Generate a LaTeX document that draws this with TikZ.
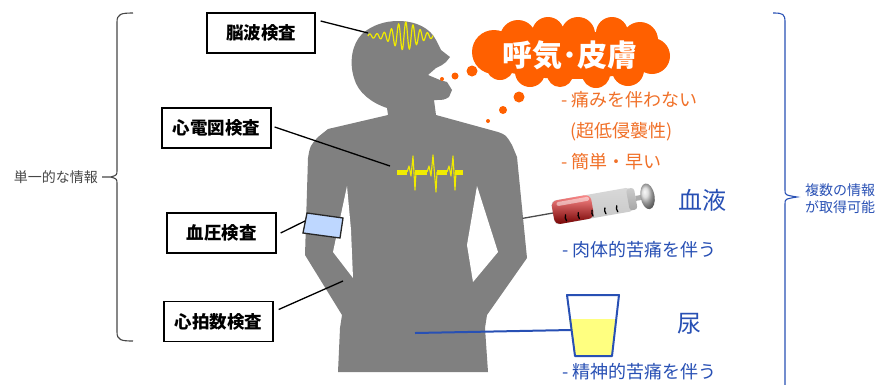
\documentclass[tikz,border=0pt]{standalone}
\usepackage{fontspec}
\setmainfont{Noto Sans CJK JP}
\usetikzlibrary{calc}

\definecolor{bodygrey}{RGB}{128,128,128}
\definecolor{cloudorange}{RGB}{255,96,0}
\definecolor{textorange}{RGB}{240,112,40}
\definecolor{infoblue}{RGB}{40,80,180}
\definecolor{bracegrey}{RGB}{70,70,70}
\definecolor{cuffblue}{RGB}{190,215,255}
\definecolor{waveyellow}{RGB}{240,235,0}
\definecolor{urineyellow}{RGB}{255,255,128}

\tikzset{
  labelbox/.style={draw=black, line width=1.3, fill=white, minimum width=108,
    minimum height=40, inner sep=0, font=\fontsize{17.5}{20}\selectfont\bfseries},
  conn/.style={draw=black, line width=1.3},
  bluelink/.style={draw=infoblue, line width=2},
  orangetxt/.style={anchor=west, inner sep=0, text=textorange, font=\fontsize{18}{20}\selectfont},
  bluetxt/.style={anchor=west, inner sep=0, text=infoblue, font=\fontsize{18}{20}\selectfont},
  bigblue/.style={inner sep=0, text=infoblue, font=\fontsize{24}{28}\selectfont},
  sidetxt/.style={inner sep=0, font=\fontsize{14}{16}\selectfont}
}

\begin{document}
\begin{tikzpicture}[x=1pt,y=-1pt]
\useasboundingbox (0,0) rectangle (880,384);

% ---------- silhouette ----------
\fill[bodygrey]
  (388,115) -- (387,108)
  .. controls (372,103) and (358,93) .. (354,78)
  .. controls (349,62) and (352,44) .. (362,34)
  .. controls (372,25) and (385,21) .. (398,21)
  .. controls (416,21) and (430,28) .. (436,40)
  -- (441,50) -- (450,57) -- (446,62) -- (442,65)
  -- (436,68) -- (428,75) -- (440,80) -- (447,82)
  -- (452,90) -- (449,97)
  .. controls (444,100) .. (434,100)
  -- (436,115) -- (498,132)
  .. controls (506,135) .. (512,145)
  -- (517,157) -- (527,258) -- (487,315) -- (485,328) -- (488,372)
  -- (338,372) -- (340,328) -- (342,315) -- (305,255) -- (308,158)
  .. controls (310,146) .. (318,137)
  -- (328,129) -- cycle;
% gaps between arms and body
\fill[white] (347,186) -- (351,230) -- (353,278) -- (333,252) -- cycle;
\fill[white] (477,186) -- (498,252) -- (473,282) -- (467,245) -- cycle;

% brain wave
\draw[waveyellow, line width=1.2] plot[domain=368:433, samples=260]
  (\x, {36 - (2+12/exp(((\x-405)/15)^2))*sin(50*(\x-368))});

% ECG trace
\draw[waveyellow, line width=5]
  (397,172) -- (407,172) (415,172) -- (427,172)
  (437,172) -- (447,172) (455,172) -- (463,172);
\draw[waveyellow, line width=1.1, line join=round]
  (407,172) -- (409,166) -- (411,176) -- (413,156) -- (415,190) -- (416,172)
  (427,172) -- (429,166) -- (431,176) -- (433,155) -- (436,192) -- (437,172)
  (447,172) -- (449,166) -- (451,176) -- (453,156) -- (455,190) -- (456,172);

% blood pressure cuff
\filldraw[fill=cuffblue, draw=black!85, line width=1.3]
  (307,213) -- (343,218) -- (340,238) -- (303,233) -- cycle;

% ---------- test labels ----------
\node[labelbox] (eeg) at (261,33) {脳波検査};
\node[labelbox, minimum width=109] (ecg) at (216.5,128) {心電図検査};
\node[labelbox, minimum width=109] (bp) at (221.5,233) {血圧検査};
\node[labelbox, minimum width=109] (hr) at (218.5,321.5) {心拍数検査};

\coordinate (eegT) at (368,33);
\coordinate (ecgT) at (390,166);
\coordinate (bpT) at (305,221);
\coordinate (hrT) at (343,281);
\draw[conn] ($(eeg.east)+(5,-12)$) -- (eegT);
\draw[conn] ($(ecg.east)+(3,-1)$) -- (ecgT);
\draw[conn] ($(bp.east)+(4,0)$) -- (bpT);
\draw[conn] ($(hr.east)+(5,-12)$) -- (hrT);

% ---------- left brace ----------
\node[sidetxt, text=bracegrey, anchor=east] (single) at (98,177) {単一的な情報};
\draw[bracegrey, line width=1.1]
  (133,13) .. controls (121,13) and (117,14) .. (117,22) -- (117,170)
  .. controls (117,175) .. (111,177) -- (102,177);
\draw[bracegrey, line width=1.1]
  (111,177) .. controls (117,179) .. (117,184) -- (117,332)
  .. controls (117,340) and (121,341) .. (133,341);

% ---------- right brace ----------
\draw[infoblue, line width=1.1]
  (773,13) .. controls (783,13) and (785,14) .. (785,22) -- (785,190)
  .. controls (785,195) .. (797,197)
  .. controls (785,199) .. (785,204) -- (785,386);
\node[sidetxt, text=infoblue, anchor=west] (multi1) at (805,190) {複数の情報};
\node[sidetxt, text=infoblue, anchor=west] (multi2) at (805,207) {が取得可能};

% ---------- breath / skin cloud ----------
\fill[cloudorange]
  (570,55) ellipse (88 and 24)
  (494,52) circle (22) (518,38) circle (18) (548,33) circle (16)
  (578,34) circle (17) (612,33) circle (16) (640,40) circle (18)
  (652,56) circle (18) (628,70) circle (16) (596,74) circle (14)
  (560,74) circle (13) (530,72) circle (15) (500,66) circle (14);
\node[text=white, inner sep=0, font=\fontsize{30}{34}\selectfont\bfseries] (breath) at (570,55) {呼気･皮膚};
\fill[cloudorange] (472,71) circle (5.5) (455,76) circle (3.5) (442,79) circle (2);
\fill[cloudorange] (519,97) circle (5.5) (503,110) circle (4) (488,121) circle (2);

\node[orangetxt] (o1) at (561,100) {- 痛みを伴わない};
\node[orangetxt] (o2) at (570,132) {(超低侵襲性)};
\node[orangetxt] (o3) at (561,162) {- 簡単・早い};

% ---------- syringe ----------
\begin{scope}[shift={(553,213)}, rotate=10]
  \draw[black!70, line width=1.3] (-31,0) -- (0,0);
  \shade[top color=gray!30, middle color=white, bottom color=gray!45, rounded corners=4]
    (0,-12) rectangle (80,12);
  \shade[top color=red!45, middle color=red!80!black, bottom color=red!45!black, rounded corners=6]
    (0,-12) rectangle (40,12);
  \fill[white, opacity=0.5, rounded corners=2] (5,-10) rectangle (38,-6);
  \foreach \t in {12,25,39,52,64}
    \draw[black, line width=1.3, line cap=round] (\t,4) .. controls (\t-1,7) .. (\t,10);
  \shade[top color=gray!40, bottom color=gray!70, rounded corners=3] (76,-11) rectangle (84,11);
  \fill[gray!65] (84,-2.5) rectangle (92,2.5);
  \shade[ball color=gray!35] (96,0) ellipse (7 and 13);
\end{scope}
\node[bigblue] (blood) at (702,200) {血液};
\node[bluetxt] (b1) at (562,250) {- 肉体的苦痛を伴う};

% ---------- urine cup ----------
\fill[urineyellow] (569,319) -- (615.5,319) -- (612,356) -- (575,356) -- cycle;
\draw[infoblue, line width=2, line join=round] (567,295) -- (619,295) -- (612,356) -- (575,356) -- cycle;
\coordinate (cupL) at (571,330);
\coordinate (bellyP) at (415,333);
\draw[bluelink] (bellyP) -- (cupL);
\node[bigblue] (urine) at (689,324) {尿};
\node[bluetxt] (u1) at (562,372) {- 精神的苦痛を伴う};

\end{tikzpicture}
\end{document}
